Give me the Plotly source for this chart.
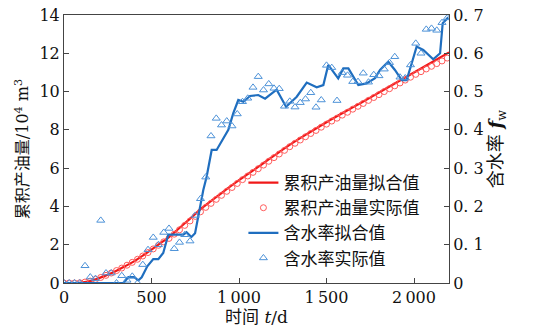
import plotly.graph_objects as go

# ---- data ----
t_obs = [0, 30, 60, 90, 120, 150, 180, 210, 240, 270, 300, 330, 360, 390, 420, 450, 480, 510, 540, 570,
         600, 630, 660, 690, 720, 750, 780, 810, 840, 870, 900, 930, 960, 990, 1020, 1050, 1080, 1110,
         1140, 1170, 1200, 1230, 1260, 1290, 1320, 1350, 1380, 1410, 1440, 1470, 1500, 1530, 1560, 1590,
         1620, 1650, 1680, 1710, 1740, 1770, 1800, 1830, 1860, 1890, 1920, 1950, 1980, 2010, 2040, 2070,
         2100, 2130, 2160, 2190]

oil_actual = [0, 0, 0, 0.01, 0.05, 0.1, 0.19, 0.29, 0.4, 0.52, 0.65, 0.78, 0.93, 1.08, 1.24, 1.41, 1.59,
              1.78, 1.97, 2.15, 2.33, 2.55, 2.78, 3.01, 3.24, 3.48, 3.72, 3.95, 4.16, 4.37, 4.58, 4.79,
              4.99, 5.2, 5.4, 5.59, 5.78, 5.97, 6.16, 6.36, 6.55, 6.74, 6.93, 7.12, 7.3, 7.47, 7.64, 7.81,
              7.97, 8.14, 8.3, 8.46, 8.61, 8.77, 8.92, 9.08, 9.23, 9.38, 9.54, 9.69, 9.84, 10.0, 10.15,
              10.3, 10.45, 10.6, 10.75, 10.9, 11.04, 11.18, 11.32, 11.46, 11.6, 11.75]

fw_actual = [0, 0, 0, 0, 0.045, 0.0155, 0.0115, 0.1635, 0.026, 0.026, 0, 0.019, 0.007, 0.0175, 0, 0.048,
             0.087, 0.119, 0.1, 0.132, 0.1425, 0.0895, 0.106, 0.126, 0.1095, 0.1765, 0.22, 0.2765, 0.384,
             0.43, 0.4125, 0.423, 0.41, 0.4415, 0.4735, 0.4825, 0.511, 0.539, 0.504, 0.52, 0.5085, 0.5075,
             0.4615, 0.4745, 0.4595, 0.471, 0.4805, 0.497, 0.459, 0.478, 0.5685, 0.5625, 0.4765, 0.5495,
             0.5425, 0.526, 0.526, 0.548, 0.5245, 0.544, 0.541, 0.5585, 0.5755, 0.591, 0.5375, 0.5355,
             0.5695, 0.626, 0.6, 0.6625, 0.665, 0.66, 0.68, 0.6925]

t_oil_fit = [0, 60, 100, 150, 200, 250, 300, 350, 400, 450, 500, 550, 600, 700, 800, 900, 1000, 1100,
             1200, 1300, 1400, 1500, 1600, 1700, 1800, 1900, 2000, 2100, 2200]
oil_fit = [0, 0, 0.02, 0.1, 0.26, 0.43, 0.64, 0.88, 1.13, 1.43, 1.74, 2.07, 2.4, 3.2, 4.0, 4.7, 5.37, 6.0,
           6.65, 7.28, 7.85, 8.4, 8.92, 9.43, 9.95, 10.47, 11.0, 11.52, 12.05]

t_fw_fit = [0, 300, 340, 368, 400, 425, 444, 476, 510, 539, 567, 596, 682, 700, 728, 749, 796, 815, 844,
            872, 910, 939, 967, 996, 1025, 1063, 1110, 1149, 1215, 1269, 1330, 1387, 1444, 1482, 1510,
            1567, 1596, 1625, 1682, 1729, 1777, 1806, 1853, 1891, 1930, 1958, 1987, 2015, 2053, 2110,
            2149, 2164, 2196]
fw_fit = [0, 0, 0, 0.0155, 0.0155, 0.007, 0.015, 0.0435, 0.0625, 0.0625, 0.0785, 0.1265, 0.1265, 0.1325,
          0.12, 0.13, 0.243, 0.2775, 0.3475, 0.3475, 0.378, 0.4, 0.443, 0.478, 0.4735, 0.4885, 0.491,
          0.4815, 0.505, 0.4605, 0.4865, 0.5235, 0.511, 0.517, 0.5695, 0.5345, 0.5605, 0.5605, 0.517,
          0.5215, 0.535, 0.5565, 0.578, 0.5565, 0.53, 0.53, 0.574, 0.6175, 0.6085, 0.5845, 0.6, 0.6785,
          0.694]

x_ticks = [0, 500, 1000, 1500, 2000]
x_ticktext = ["0", "500", "1\u2009000", "1\u2009500", "2\u2009000"]
y_ticks = [0, 2, 4, 6, 8, 10, 12, 14]
y2_ticks = [0, 0.1, 0.2, 0.3, 0.4, 0.5, 0.6, 0.7]
y2_ticktext = ["0", "0. 1", "0. 2", "0. 3", "0. 4", "0. 5", "0. 6", "0. 7"]

names = ["累积产油量拟合值", "累积产油量实际值", "含水率拟合值", "含水率实际值"]

FONT = "DejaVu Serif, Noto Sans CJK SC, serif"
RED = "#f01818"
RED_L = "#ff5a5a"
BLUE = "#1f6ebf"
BLUE_L = "#4d92d8"

fig = go.Figure()
fig.add_trace(go.Scatter(x=t_oil_fit, y=oil_fit, mode="lines", name=names[0],
                         line=dict(color=RED, width=2.2, shape="spline")))
fig.add_trace(go.Scatter(x=t_obs, y=oil_actual, mode="markers", name=names[1],
                         marker=dict(symbol="circle-open", size=6, color=RED_L, line=dict(width=1))))
fig.add_trace(go.Scatter(x=t_fw_fit, y=fw_fit, mode="lines", name=names[2], yaxis="y2",
                         line=dict(color=BLUE, width=2.2)))
fig.add_trace(go.Scatter(x=t_obs, y=fw_actual, mode="markers", name=names[3], yaxis="y2",
                         marker=dict(symbol="triangle-up-open", size=7, color=BLUE_L, line=dict(width=1))))

axis_common = dict(showgrid=False, zeroline=False, showline=True, linecolor="#444", linewidth=1,
                   ticks="inside", ticklen=5, tickcolor="#444", automargin=False,
                   tickfont=dict(family=FONT, size=16, color="#111"))

fig.update_layout(
    width=536, height=335,
    margin=dict(l=64, r=87, t=15, b=52),
    paper_bgcolor="white", plot_bgcolor="white",
    font=dict(family=FONT, color="#111"),
    showlegend=True,
    legend=dict(x=0.466, y=0.44, xanchor="left", yanchor="top", bgcolor="rgba(0,0,0,0)",
                font=dict(family="Noto Sans CJK SC", size=17, color="#111"),
                tracegroupgap=0, itemwidth=30),
    xaxis=dict(range=[0, 2200], tickvals=x_ticks, ticktext=x_ticktext, mirror=True,
               title=dict(text="时间 <i>t</i>/d", font=dict(family=FONT, size=17), standoff=0),
               **axis_common),
    yaxis=dict(range=[0, 14], tickvals=y_ticks,
               title=dict(text="累积产油量/10<sup>4</sup> m<sup>3</sup>", font=dict(family=FONT, size=16),
                          standoff=6),
               **axis_common),
    yaxis2=dict(range=[0, 0.7], tickvals=y2_ticks, ticktext=y2_ticktext, overlaying="y", side="right",
                title=dict(text="含水率 <b><i>f</i></b><sub>w</sub>", font=dict(family=FONT, size=18),
                           standoff=6),
                **axis_common),
)

fig.write_html("out.html", post_script="document.body.style.margin='0';",
               config={"displayModeBar": False})
